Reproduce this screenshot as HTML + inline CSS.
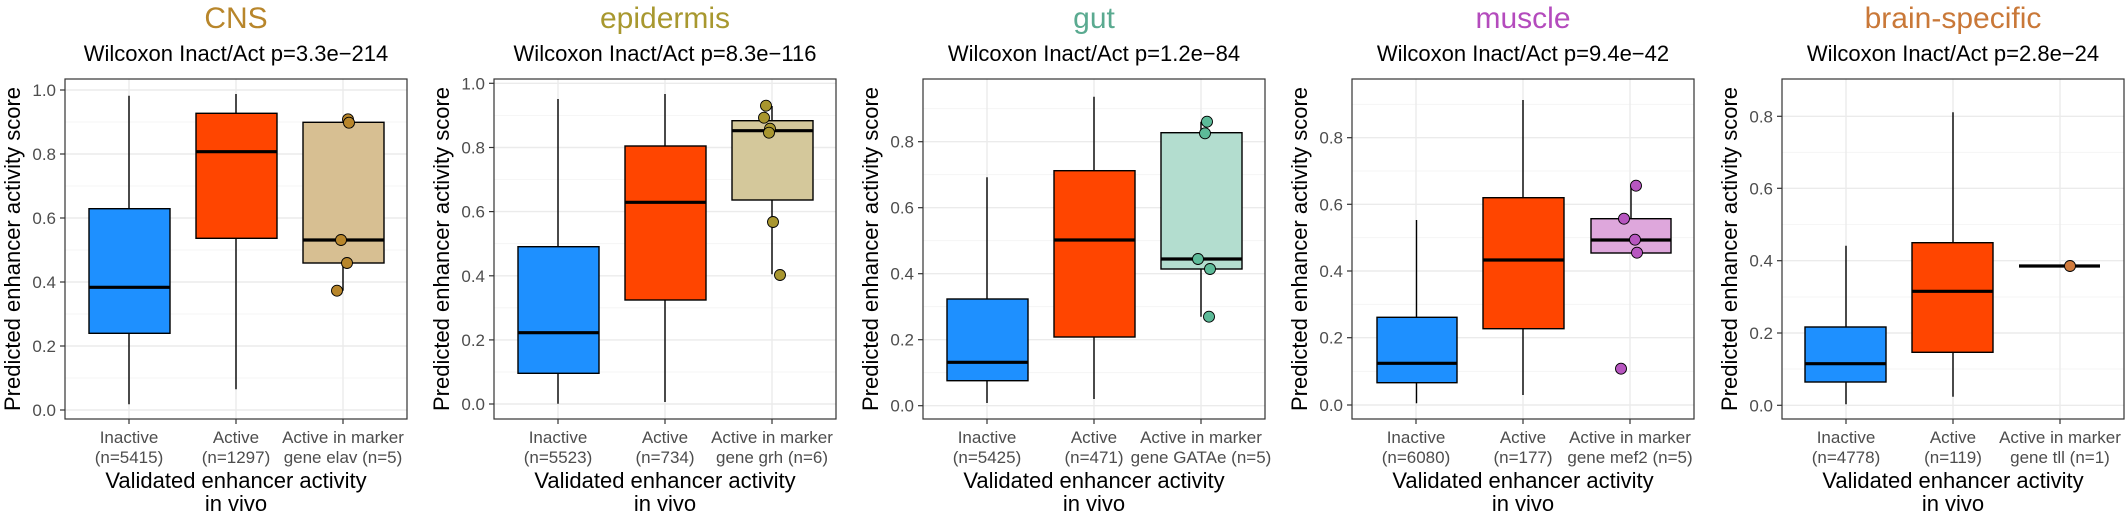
<!DOCTYPE html>
<html><head><meta charset="utf-8"><style>
html,body{margin:0;padding:0;background:#fff}
svg{display:block}
text{font-family:"Liberation Sans",Arial,sans-serif}
.t{font-size:30px;text-anchor:middle}
.s{font-size:22px;text-anchor:middle;fill:#000}
.yl{font-size:22px;text-anchor:middle;fill:#000}
.tk{font-size:17px;fill:#4d4d4d;text-anchor:end}
.xt{font-size:17px;fill:#4d4d4d;text-anchor:middle}
.xl{font-size:22px;fill:#000;text-anchor:middle}
.mj{stroke:#ebebeb;stroke-width:1.4}
.mn{stroke:#f3f3f3;stroke-width:0.8}
.fr{fill:none;stroke:#333;stroke-width:1.2}
.tm{stroke:#333;stroke-width:1.2}
.wh{stroke:#000;stroke-width:1.4}
.bx{stroke:#000;stroke-width:1.4}
.md{stroke:#000;stroke-width:3.2}
.pt{stroke:#000;stroke-width:0.9}
</style></head><body>
<svg width="2125" height="517" viewBox="0 0 2125 517" xmlns="http://www.w3.org/2000/svg">

<!-- Panel 1 CNS L=65 -->
<g>
<text class="t" x="236" y="28" fill="#b8862b">CNS</text>
<text class="s" x="236" y="61">Wilcoxon Inact/Act p=3.3e−214</text>
<g class="mn"><line x1="65" x2="407" y1="122" y2="122"/><line x1="65" x2="407" y1="186" y2="186"/><line x1="65" x2="407" y1="250" y2="250"/><line x1="65" x2="407" y1="314" y2="314"/><line x1="65" x2="407" y1="378" y2="378"/></g>
<g class="mj"><line x1="65" x2="407" y1="90" y2="90"/><line x1="65" x2="407" y1="154" y2="154"/><line x1="65" x2="407" y1="218" y2="218"/><line x1="65" x2="407" y1="282" y2="282"/><line x1="65" x2="407" y1="346" y2="346"/><line x1="65" x2="407" y1="410" y2="410"/>
<line x1="129" x2="129" y1="79" y2="419"/><line x1="236" x2="236" y1="79" y2="419"/><line x1="343" x2="343" y1="79" y2="419"/></g>
<line class="wh" x1="129" x2="129" y1="95.7" y2="404.3"/>
<rect class="bx" x="89" y="208.7" width="81" height="124.6" fill="#1e90ff"/>
<line class="md" x1="89" x2="170" y1="287.3" y2="287.3"/>
<line class="wh" x1="236" x2="236" y1="94" y2="389.3"/>
<rect class="bx" x="196" y="113.3" width="81" height="125" fill="#ff4500"/>
<line class="md" x1="196" x2="277" y1="151.7" y2="151.7"/>
<line class="wh" x1="343" x2="343" y1="263" y2="290.7"/>
<rect class="bx" x="303" y="122.3" width="81" height="140.7" fill="#d7bf92"/>
<line class="md" x1="303" x2="384" y1="240" y2="240"/>
<g class="pt" fill="#b8862b"><circle cx="348" cy="119.3" r="5.5"/><circle cx="349" cy="122.7" r="5.5"/><circle cx="341" cy="240" r="5.5"/><circle cx="347" cy="263" r="5.5"/><circle cx="337" cy="290.7" r="5.5"/></g>
<rect class="fr" x="65" y="79" width="342" height="340"/>
<g class="tm"><line x1="60" x2="65" y1="90" y2="90"/><line x1="60" x2="65" y1="154" y2="154"/><line x1="60" x2="65" y1="218" y2="218"/><line x1="60" x2="65" y1="282" y2="282"/><line x1="60" x2="65" y1="346" y2="346"/><line x1="60" x2="65" y1="410" y2="410"/>
<line x1="129" x2="129" y1="419" y2="424"/><line x1="236" x2="236" y1="419" y2="424"/><line x1="343" x2="343" y1="419" y2="424"/></g>
<text class="tk" x="56" y="96">1.0</text><text class="tk" x="56" y="160">0.8</text><text class="tk" x="56" y="224">0.6</text><text class="tk" x="56" y="288">0.4</text><text class="tk" x="56" y="352">0.2</text><text class="tk" x="56" y="416">0.0</text>
<text class="yl" transform="translate(20,249) rotate(-90)">Predicted enhancer activity score</text>
<text class="xt" x="129" y="443">Inactive</text><text class="xt" x="129" y="463">(n=5415)</text>
<text class="xt" x="236" y="443">Active</text><text class="xt" x="236" y="463">(n=1297)</text>
<text class="xt" x="343" y="443">Active in marker</text><text class="xt" x="343" y="463">gene elav (n=5)</text>
<text class="xl" x="236" y="488">Validated enhancer activity</text><text class="xl" x="236" y="511">in vivo</text>
</g>

<!-- Panel 2 epidermis L=494 -->
<g>
<text class="t" x="665" y="28" fill="#a8982f">epidermis</text>
<text class="s" x="665" y="61">Wilcoxon Inact/Act p=8.3e−116</text>
<g class="mn"><line x1="494" x2="836" y1="115.4" y2="115.4"/><line x1="494" x2="836" y1="179.5" y2="179.5"/><line x1="494" x2="836" y1="243.7" y2="243.7"/><line x1="494" x2="836" y1="307.8" y2="307.8"/><line x1="494" x2="836" y1="372" y2="372"/></g>
<g class="mj"><line x1="494" x2="836" y1="83.3" y2="83.3"/><line x1="494" x2="836" y1="147.5" y2="147.5"/><line x1="494" x2="836" y1="211.6" y2="211.6"/><line x1="494" x2="836" y1="275.8" y2="275.8"/><line x1="494" x2="836" y1="339.9" y2="339.9"/><line x1="494" x2="836" y1="404" y2="404"/>
<line x1="558" x2="558" y1="79" y2="419"/><line x1="665" x2="665" y1="79" y2="419"/><line x1="772" x2="772" y1="79" y2="419"/></g>
<line class="wh" x1="558" x2="558" y1="99" y2="403.7"/>
<rect class="bx" x="518" y="246.7" width="81" height="126.6" fill="#1e90ff"/>
<line class="md" x1="518" x2="599" y1="332.7" y2="332.7"/>
<line class="wh" x1="665" x2="665" y1="94" y2="402"/>
<rect class="bx" x="625" y="146" width="81" height="154" fill="#ff4500"/>
<line class="md" x1="625" x2="706" y1="202.3" y2="202.3"/>
<line class="wh" x1="772" x2="772" y1="106" y2="274.3"/>
<rect class="bx" x="732" y="120.7" width="81" height="79.3" fill="#d4c89b"/>
<line class="md" x1="732" x2="813" y1="130.7" y2="130.7"/>
<g class="pt" fill="#a8962f"><circle cx="766" cy="105.7" r="5.5"/><circle cx="764" cy="117.7" r="5.5"/><circle cx="770" cy="128.7" r="5.5"/><circle cx="769" cy="132.7" r="5.5"/><circle cx="773" cy="222" r="5.5"/><circle cx="780" cy="275" r="5.5"/></g>
<rect class="fr" x="494" y="79" width="342" height="340"/>
<g class="tm"><line x1="489" x2="494" y1="83.3" y2="83.3"/><line x1="489" x2="494" y1="147.5" y2="147.5"/><line x1="489" x2="494" y1="211.6" y2="211.6"/><line x1="489" x2="494" y1="275.8" y2="275.8"/><line x1="489" x2="494" y1="339.9" y2="339.9"/><line x1="489" x2="494" y1="404" y2="404"/>
<line x1="558" x2="558" y1="419" y2="424"/><line x1="665" x2="665" y1="419" y2="424"/><line x1="772" x2="772" y1="419" y2="424"/></g>
<text class="tk" x="485" y="89.3">1.0</text><text class="tk" x="485" y="153.5">0.8</text><text class="tk" x="485" y="217.6">0.6</text><text class="tk" x="485" y="281.8">0.4</text><text class="tk" x="485" y="345.9">0.2</text><text class="tk" x="485" y="410">0.0</text>
<text class="yl" transform="translate(449,249) rotate(-90)">Predicted enhancer activity score</text>
<text class="xt" x="558" y="443">Inactive</text><text class="xt" x="558" y="463">(n=5523)</text>
<text class="xt" x="665" y="443">Active</text><text class="xt" x="665" y="463">(n=734)</text>
<text class="xt" x="772" y="443">Active in marker</text><text class="xt" x="772" y="463">gene grh (n=6)</text>
<text class="xl" x="665" y="488">Validated enhancer activity</text><text class="xl" x="665" y="511">in vivo</text>
</g>

<!-- Panel 3 gut L=923 -->
<g>
<text class="t" x="1094" y="28" fill="#5aaa90">gut</text>
<text class="s" x="1094" y="61">Wilcoxon Inact/Act p=1.2e−84</text>
<g class="mn"><line x1="923" x2="1265" y1="108.7" y2="108.7"/><line x1="923" x2="1265" y1="174.7" y2="174.7"/><line x1="923" x2="1265" y1="240.7" y2="240.7"/><line x1="923" x2="1265" y1="306.7" y2="306.7"/><line x1="923" x2="1265" y1="372.7" y2="372.7"/></g>
<g class="mj"><line x1="923" x2="1265" y1="141.7" y2="141.7"/><line x1="923" x2="1265" y1="207.7" y2="207.7"/><line x1="923" x2="1265" y1="273.7" y2="273.7"/><line x1="923" x2="1265" y1="339.7" y2="339.7"/><line x1="923" x2="1265" y1="405.7" y2="405.7"/>
<line x1="987" x2="987" y1="79" y2="419"/><line x1="1094" x2="1094" y1="79" y2="419"/><line x1="1201" x2="1201" y1="79" y2="419"/></g>
<line class="wh" x1="987" x2="987" y1="177.3" y2="403"/>
<rect class="bx" x="947" y="299" width="81" height="81.7" fill="#1e90ff"/>
<line class="md" x1="947" x2="1028" y1="362.3" y2="362.3"/>
<line class="wh" x1="1094" x2="1094" y1="96.7" y2="399"/>
<rect class="bx" x="1054" y="170.7" width="81" height="166.3" fill="#ff4500"/>
<line class="md" x1="1054" x2="1135" y1="240" y2="240"/>
<line class="wh" x1="1201" x2="1201" y1="121.7" y2="316.7"/>
<rect class="bx" x="1161" y="132.7" width="81" height="136.3" fill="#b3ddcf"/>
<line class="md" x1="1161" x2="1242" y1="259" y2="259"/>
<g class="pt" fill="#5cba98"><circle cx="1207" cy="121.7" r="5.5"/><circle cx="1205" cy="133.3" r="5.5"/><circle cx="1198" cy="259" r="5.5"/><circle cx="1210" cy="269" r="5.5"/><circle cx="1209" cy="316.7" r="5.5"/></g>
<rect class="fr" x="923" y="79" width="342" height="340"/>
<g class="tm"><line x1="918" x2="923" y1="141.7" y2="141.7"/><line x1="918" x2="923" y1="207.7" y2="207.7"/><line x1="918" x2="923" y1="273.7" y2="273.7"/><line x1="918" x2="923" y1="339.7" y2="339.7"/><line x1="918" x2="923" y1="405.7" y2="405.7"/>
<line x1="987" x2="987" y1="419" y2="424"/><line x1="1094" x2="1094" y1="419" y2="424"/><line x1="1201" x2="1201" y1="419" y2="424"/></g>
<text class="tk" x="914" y="147.7">0.8</text><text class="tk" x="914" y="213.7">0.6</text><text class="tk" x="914" y="279.7">0.4</text><text class="tk" x="914" y="345.7">0.2</text><text class="tk" x="914" y="411.7">0.0</text>
<text class="yl" transform="translate(878,249) rotate(-90)">Predicted enhancer activity score</text>
<text class="xt" x="987" y="443">Inactive</text><text class="xt" x="987" y="463">(n=5425)</text>
<text class="xt" x="1094" y="443">Active</text><text class="xt" x="1094" y="463">(n=471)</text>
<text class="xt" x="1201" y="443">Active in marker</text><text class="xt" x="1201" y="463">gene GATAe (n=5)</text>
<text class="xl" x="1094" y="488">Validated enhancer activity</text><text class="xl" x="1094" y="511">in vivo</text>
</g>

<!-- Panel 4 muscle L=1352 -->
<g>
<text class="t" x="1523" y="28" fill="#b44bbd">muscle</text>
<text class="s" x="1523" y="61">Wilcoxon Inact/Act p=9.4e−42</text>
<g class="mn"><line x1="1352" x2="1694" y1="104.3" y2="104.3"/><line x1="1352" x2="1694" y1="171" y2="171"/><line x1="1352" x2="1694" y1="237.7" y2="237.7"/><line x1="1352" x2="1694" y1="304.3" y2="304.3"/><line x1="1352" x2="1694" y1="371.3" y2="371.3"/></g>
<g class="mj"><line x1="1352" x2="1694" y1="137.7" y2="137.7"/><line x1="1352" x2="1694" y1="204.3" y2="204.3"/><line x1="1352" x2="1694" y1="271" y2="271"/><line x1="1352" x2="1694" y1="337.7" y2="337.7"/><line x1="1352" x2="1694" y1="405" y2="405"/>
<line x1="1416" x2="1416" y1="79" y2="419"/><line x1="1523" x2="1523" y1="79" y2="419"/><line x1="1630" x2="1630" y1="79" y2="419"/></g>
<line class="wh" x1="1416.5" x2="1416.5" y1="220" y2="403.3"/>
<rect class="bx" x="1377" y="317.3" width="80" height="65.4" fill="#1e90ff"/>
<line class="md" x1="1377" x2="1457" y1="363.3" y2="363.3"/>
<line class="wh" x1="1523" x2="1523" y1="100" y2="395"/>
<rect class="bx" x="1483" y="197.7" width="81" height="131" fill="#ff4500"/>
<line class="md" x1="1483" x2="1564" y1="260" y2="260"/>
<line class="wh" x1="1631" x2="1631" y1="185.7" y2="218.7"/>
<rect class="bx" x="1591" y="218.7" width="80" height="34.3" fill="#dea7dc"/>
<line class="md" x1="1591" x2="1671" y1="240" y2="240"/>
<g class="pt" fill="#b756c0"><circle cx="1636" cy="185.7" r="5.5"/><circle cx="1624" cy="218.7" r="5.5"/><circle cx="1635" cy="239.7" r="5.5"/><circle cx="1637" cy="252.7" r="5.5"/><circle cx="1621" cy="368.7" r="5.5"/></g>
<rect class="fr" x="1352" y="79" width="342" height="340"/>
<g class="tm"><line x1="1347" x2="1352" y1="137.7" y2="137.7"/><line x1="1347" x2="1352" y1="204.3" y2="204.3"/><line x1="1347" x2="1352" y1="271" y2="271"/><line x1="1347" x2="1352" y1="337.7" y2="337.7"/><line x1="1347" x2="1352" y1="405" y2="405"/>
<line x1="1416" x2="1416" y1="419" y2="424"/><line x1="1523" x2="1523" y1="419" y2="424"/><line x1="1630" x2="1630" y1="419" y2="424"/></g>
<text class="tk" x="1343" y="143.7">0.8</text><text class="tk" x="1343" y="210.3">0.6</text><text class="tk" x="1343" y="277">0.4</text><text class="tk" x="1343" y="343.7">0.2</text><text class="tk" x="1343" y="411">0.0</text>
<text class="yl" transform="translate(1307,249) rotate(-90)">Predicted enhancer activity score</text>
<text class="xt" x="1416" y="443">Inactive</text><text class="xt" x="1416" y="463">(n=6080)</text>
<text class="xt" x="1523" y="443">Active</text><text class="xt" x="1523" y="463">(n=177)</text>
<text class="xt" x="1630" y="443">Active in marker</text><text class="xt" x="1630" y="463">gene mef2 (n=5)</text>
<text class="xl" x="1523" y="488">Validated enhancer activity</text><text class="xl" x="1523" y="511">in vivo</text>
</g>

<!-- Panel 5 brain-specific L=1782 -->
<g>
<text class="t" x="1953" y="28" fill="#c97838">brain-specific</text>
<text class="s" x="1953" y="61">Wilcoxon Inact/Act p=2.8e−24</text>
<g class="mn"><line x1="1782" x2="2124" y1="152.3" y2="152.3"/><line x1="1782" x2="2124" y1="224.5" y2="224.5"/><line x1="1782" x2="2124" y1="297" y2="297"/><line x1="1782" x2="2124" y1="369" y2="369"/></g>
<g class="mj"><line x1="1782" x2="2124" y1="116.3" y2="116.3"/><line x1="1782" x2="2124" y1="188.3" y2="188.3"/><line x1="1782" x2="2124" y1="260.7" y2="260.7"/><line x1="1782" x2="2124" y1="333" y2="333"/><line x1="1782" x2="2124" y1="405.3" y2="405.3"/>
<line x1="1846" x2="1846" y1="79" y2="419"/><line x1="1953" x2="1953" y1="79" y2="419"/><line x1="2060" x2="2060" y1="79" y2="419"/></g>
<line class="wh" x1="1846" x2="1846" y1="245.7" y2="404.3"/>
<rect class="bx" x="1805" y="327" width="81" height="55" fill="#1e90ff"/>
<line class="md" x1="1805" x2="1886" y1="363.7" y2="363.7"/>
<line class="wh" x1="1953" x2="1953" y1="112.3" y2="396.7"/>
<rect class="bx" x="1912" y="242.7" width="81" height="109.6" fill="#ff4500"/>
<line class="md" x1="1912" x2="1993" y1="291.3" y2="291.3"/>
<line class="md" x1="2019" x2="2100" y1="266" y2="266"/>
<circle class="pt" cx="2070" cy="266" r="5.5" fill="#d07a3c"/>
<rect class="fr" x="1782" y="79" width="342" height="340"/>
<g class="tm"><line x1="1777" x2="1782" y1="116.3" y2="116.3"/><line x1="1777" x2="1782" y1="188.3" y2="188.3"/><line x1="1777" x2="1782" y1="260.7" y2="260.7"/><line x1="1777" x2="1782" y1="333" y2="333"/><line x1="1777" x2="1782" y1="405.3" y2="405.3"/>
<line x1="1846" x2="1846" y1="419" y2="424"/><line x1="1953" x2="1953" y1="419" y2="424"/><line x1="2060" x2="2060" y1="419" y2="424"/></g>
<text class="tk" x="1773" y="122.3">0.8</text><text class="tk" x="1773" y="194.3">0.6</text><text class="tk" x="1773" y="266.7">0.4</text><text class="tk" x="1773" y="339">0.2</text><text class="tk" x="1773" y="411.3">0.0</text>
<text class="yl" transform="translate(1737,249) rotate(-90)">Predicted enhancer activity score</text>
<text class="xt" x="1846" y="443">Inactive</text><text class="xt" x="1846" y="463">(n=4778)</text>
<text class="xt" x="1953" y="443">Active</text><text class="xt" x="1953" y="463">(n=119)</text>
<text class="xt" x="2060" y="443">Active in marker</text><text class="xt" x="2060" y="463">gene tll (n=1)</text>
<text class="xl" x="1953" y="488">Validated enhancer activity</text><text class="xl" x="1953" y="511">in vivo</text>
</g>
</svg>
</body></html>
